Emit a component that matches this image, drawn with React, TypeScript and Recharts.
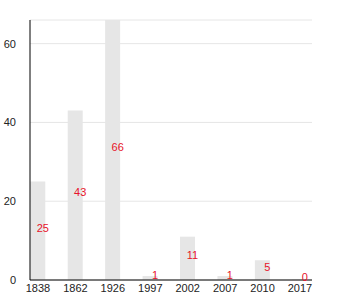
import { BarChart, Bar, XAxis, YAxis, CartesianGrid, LabelList } from 'recharts';

const years = ['1838', '1862', '1926', '1997', '2002', '2007', '2010', '2017'];
const counts = [25, 43, 66, 1, 11, 1, 5, 0];
const yTicks = [0, 20, 40, 60];

const data = years.map((year, i) => ({ year, count: counts[i] }));

export default function App() {
  return (
    <div
      style={{
        fontFamily: '"Liberation Sans", Arial, sans-serif',
        position: 'absolute',
        left: 0,
        top: 8,
      }}
    >
      <BarChart
        width={342}
        height={292}
        data={data}
        margin={{ top: 12, right: 30, left: 0, bottom: 0 }}
      >
        <CartesianGrid vertical={false} stroke="#e6e6e6" />
        <XAxis
          dataKey="year"
          scale="point"
          padding={{ left: 8, right: 12 }}
          height={20}
          tickLine={false}
          tickSize={0}
          tickMargin={4}
          axisLine={{ stroke: '#000' }}
          tick={{ fontSize: 11, fill: '#222' }}
          interval={0}
        />
        <YAxis
          width={30}
          domain={[0, 66]}
          ticks={yTicks}
          tickLine={false}
          tickSize={0}
          tickMargin={14}
          axisLine={{ stroke: '#000' }}
          tick={{ fontSize: 11, fill: '#222', width: 40 }}
        />
        <Bar dataKey="count" fill="#e6e6e6" barSize={15} minPointSize={0.5} isAnimationActive={false}>
          <LabelList dataKey="count" position="center" dx={5} dy={-3} fill="#e8132a" fontSize={11} />
        </Bar>
      </BarChart>
    </div>
  );
}
